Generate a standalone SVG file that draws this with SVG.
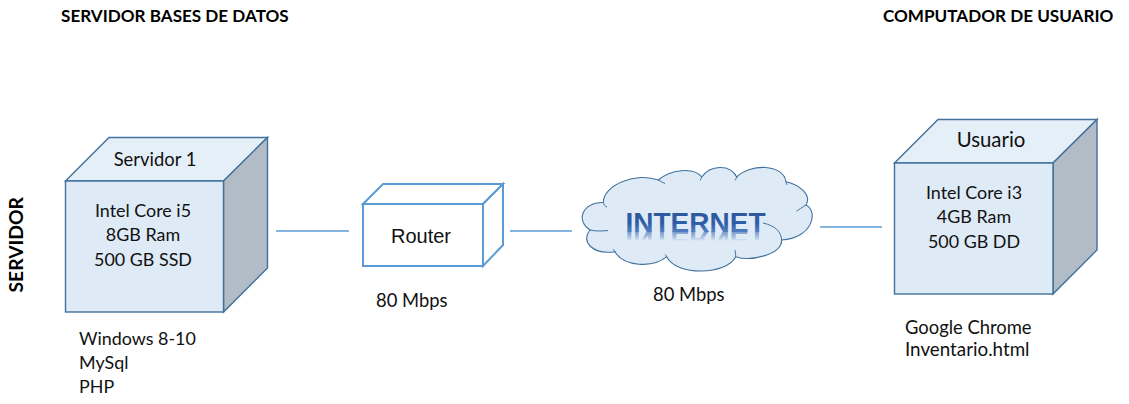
<svg xmlns="http://www.w3.org/2000/svg" xmlns:xlink="http://www.w3.org/1999/xlink" width="1129" height="404" viewBox="0 0 1129 404">
<style>
.t{font-family:"Lato","Open Sans",sans-serif;font-size:17.9px;fill:#111}
.w{font-size:18.4px}
.m{text-anchor:middle}
.h{font-family:"Lato","Open Sans",sans-serif;font-size:17.1px;font-weight:700;fill:#000}
.f{fill:#deeaf6;stroke:#41719c;stroke-width:1.4;stroke-linejoin:miter}
.top{fill:#e5eff8;stroke:#41719c;stroke-width:1.4}
.side{fill:#b1bcc6;stroke:#41719c;stroke-width:1.4}
.r{fill:#fff;stroke:#5b9bd5;stroke-width:2}
.c{stroke:#5b9bd5;stroke-width:1.6;fill:none}
.cl{fill:none;stroke:#41719c;stroke-width:1}
</style>
<defs>
<linearGradient id="g" x1="0" y1="0" x2="0" y2="1"><stop offset="0" stop-color="#2f5597"/><stop offset=".55" stop-color="#2f5ea8"/><stop offset="1" stop-color="#6f97d2"/></linearGradient>
<linearGradient id="fade" gradientUnits="userSpaceOnUse" x1="0" y1="231" x2="0" y2="241"><stop offset="0" stop-color="#fff" stop-opacity=".75"/><stop offset="1" stop-color="#fff" stop-opacity="0"/></linearGradient>
<mask id="mk" maskUnits="userSpaceOnUse" x="600" y="228" width="190" height="20"><rect x="600" y="228" width="190" height="20" fill="url(#fade)"/></mask>
</defs>
<g id="connectors">
<line class="c" x1="276" y1="231" x2="349" y2="231"/>
<line class="c" x1="510" y1="231" x2="572" y2="231"/>
<line class="c" x1="820" y1="227" x2="882" y2="227"/>
</g>
<g id="servidor-1">
<polygon class="top" points="65.5,181 109,137.5 267.5,137.5 223.5,181"/>
<polygon class="side" points="223.5,181 267.5,137.5 267.5,268 223.5,312"/>
<rect class="f" x="65.5" y="181" width="158" height="131"/>
<text class="t m w" x="155" y="166">Servidor 1</text>
<text class="t m" x="143" y="217">Intel Core i5</text>
<text class="t m" x="143" y="241">8GB Ram</text>
<text class="t m" x="143" y="266">500 GB SSD</text>
</g>
<g id="router">
<polygon class="r" points="363,204 383,184 503,184 483,204"/>
<polygon class="r" points="483,204 503,184 503,245 483,266"/>
<rect class="r" x="363" y="204" width="120" height="62"/>
<text x="421" y="243" text-anchor="middle" font-family="Liberation Sans,Arial,sans-serif" font-size="20" fill="#111">Router</text>
</g>
<g id="internet">
<path fill="#deeaf6" stroke="#41719c" stroke-width="1.1" d="M603.3,202.3C603.3,185 636.7,171.7 658.3,180C670,170 693.3,166.3 701.7,177C710,165 730,163.5 736.7,177C750,163.5 783.3,163.5 786,181.7C800,185 812,195 806,205C819,211.7 812,238.3 781.7,240C781.7,255 750,261.7 735.7,256.7C726.7,275 676.7,276.7 666.7,256.7C653.3,268.3 623.3,266.7 615,251.7C593.3,255 580,241.7 590,230C576.7,221.7 580,203.7 603.3,202.3Z"/>
<path class="cl" d="M590,230C596,231.5 603,231 608,230.5M603.3,202.3C603.5,204.5 605,206 607,207M658.3,180C661,181.5 663,182.5 665,183.5M701.7,177C701,179 700.5,179.5 700,180.5M736.7,177C736,179 735.5,179.5 735,180.5M786,181.7C786.3,183.5 786.7,184.5 787,185M806,205C802,207.5 799,209.5 796.5,211M781.7,240C781,232 776,226 763,223M735.7,256.7C735.7,254 735.3,251.5 735,250M666.7,256.7C666,255.5 665.5,255 665,254.5M615,251.7C614.5,250.5 614,250 613,249.5"/>
<text id="inet" x="695.5" y="231.5" text-anchor="middle" font-family="Liberation Sans,Arial,sans-serif" font-size="28" font-weight="700" fill="url(#g)">INTERNET</text>
<g mask="url(#mk)"><use xlink:href="#inet" href="#inet" transform="matrix(1 0 0 -1 0 462)"/></g>
</g>
<g id="usuario">
<polygon class="top" points="894.5,163 938,119.5 1097,119.5 1053,163"/>
<polygon class="side" points="1053,163 1097,119.5 1097,250 1053,294"/>
<rect class="f" x="894.5" y="163" width="158.5" height="131"/>
<text class="t m" style="font-size:20.4px" x="991" y="147">Usuario</text>
<text class="t m" x="974" y="199">Intel Core i3</text>
<text class="t m" x="974" y="223">4GB Ram</text>
<text class="t m" x="974" y="248">500 GB DD</text>
</g>
<g id="labels">
<text class="h" x="61" y="22">SERVIDOR BASES DE DATOS</text>
<text class="h" x="883" y="22">COMPUTADOR DE USUARIO</text>
<text class="h" style="font-size:19.3px" transform="translate(23 292.5) rotate(-90)">SERVIDOR</text>
<text class="t" x="79" y="345">Windows 8-10</text>
<text class="t" x="79" y="369">MySql</text>
<text class="t" x="79" y="393">PHP</text>
<text class="t w" x="376" y="307">80 Mbps</text>
<text class="t w" x="653" y="301">80 Mbps</text>
<text class="t w" style="font-size:18.4px" x="905" y="334">Google Chrome</text>
<text class="t w" style="font-size:18.8px" x="905" y="356">Inventario.html</text>
</g>
</svg>
